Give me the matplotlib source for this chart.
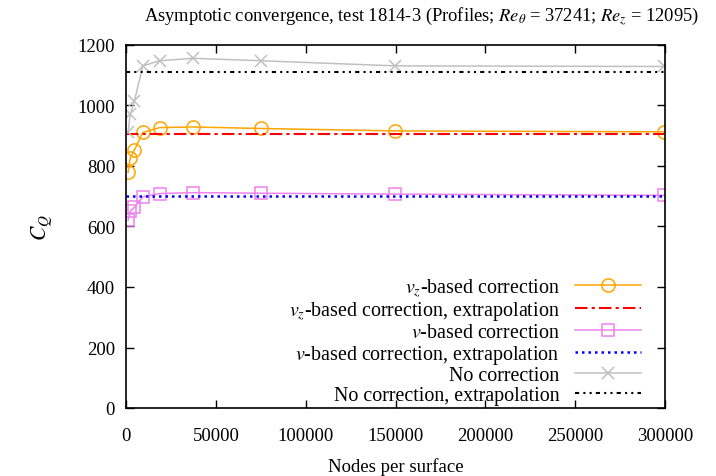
import matplotlib
matplotlib.use("Agg")
import matplotlib.pyplot as plt

plt.rcParams['font.family'] = ['Liberation Serif', 'DejaVu Serif']
plt.rcParams['mathtext.fontset'] = 'stix'

# node counts per surface
nodes = [1170, 2340, 4680, 9360, 18720, 37440, 74880, 149760, 299520]

# C_Q values
vz_corr = [779, 826, 853, 911, 927, 929, 924, 916, 913]
v_corr = [621, 651, 663, 698, 709, 712, 710, 707, 703]
no_corr = [911, 971, 1015, 1131, 1148, 1156, 1148, 1131, 1129]

# extrapolated values
vz_extrap = 905
v_extrap = 701
no_extrap = 1110

title = r"Asymptotic convergence, test 1814-3 (Profiles; $Re_\theta$ = 37241; $Re_z$ = 12095)"

fs = 13.5
fig = plt.figure(figsize=(7.16, 4.77), dpi=100)
ax = fig.add_axes([126/716, 1 - 409/477, (665 - 126)/716, (409 - 46)/477])

xr = [0, nodes[-1]]
ax.plot(nodes, vz_corr, color='#FFA500', lw=1.1, marker='o', ms=9.5,
        mfc='none', mew=1.1, label=r"$v_z$-based correction")
ax.plot(xr, [vz_extrap]*2, color='red', lw=1.5, dashes=(6, 2, 1.5, 2),
        label=r"$v_z$-based correction, extrapolation")
ax.plot(nodes, v_corr, color='#EE82EE', lw=1.1, marker='s', ms=9,
        mfc='none', mew=1.1, label=r"$v$-based correction")
ax.plot(xr, [v_extrap]*2, color='blue', lw=1.8, dashes=(1, 1.6),
        label=r"$v$-based correction, extrapolation")
ax.plot(nodes, no_corr, color='#C0C0C0', lw=1.1, marker='x', ms=9,
        mew=1.1, label="No correction")
ax.plot(xr, [no_extrap]*2, color='black', lw=1.5, dashes=(2, 2, 1, 2, 1, 2),
        label="No correction, extrapolation")

ax.set_xlim(0, 300000)
ax.set_ylim(0, 1200)
ax.set_xticks(range(0, 300001, 50000))
ax.set_yticks(range(0, 1201, 200))
ax.tick_params(direction='in', top=True, right=True, length=6, width=1,
               labelsize=fs, pad=8)
ax.tick_params(axis='x', pad=14)
for s in ax.spines.values():
    s.set_linewidth(1.2)

ax.set_xlabel("Nodes per surface", fontsize=fs, labelpad=9)
ax.set_ylabel(r"$C_Q$", fontsize=fs + 2, labelpad=16)

fig.text(422/716, 1 - 16/477, title, ha='center', va='center', fontsize=13.3)

leg = ax.legend(loc='lower right', bbox_to_anchor=(0.955, 0.009),
                frameon=False, markerfirst=False, fontsize=14.4,
                handlelength=3.3, handletextpad=0.75, labelspacing=0.03,
                borderpad=0, borderaxespad=0)

fig.savefig("out.png", dpi=100)
